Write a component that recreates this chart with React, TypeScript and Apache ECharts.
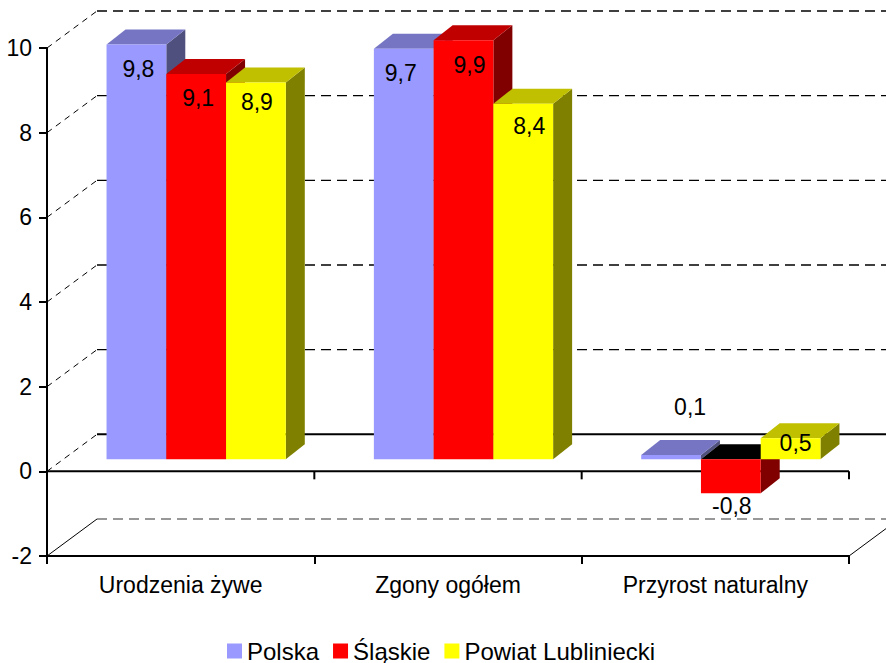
import React, { useEffect, useRef } from "react";
import * as echarts from "echarts";

// ---- data ----
const categories = ["Urodzenia żywe", "Zgony ogółem", "Przyrost naturalny"];
const seriesNames = ["Polska", "Śląskie", "Powiat Lubliniecki"];
const polska = [9.8, 9.7, 0.1];
const slaskie = [9.1, 9.9, -0.8];
const powiat = [8.9, 8.4, 0.5];
const yTicks = [-2, 0, 2, 4, 6, 8, 10];

// ---- style ----
const FONT = "'Liberation Sans', Arial, sans-serif";
const WALL_DX = 50;
const WALL_DY = -37;
const SHIFT_X = 15.5;
const SHIFT_Y = -12;
const DEPTH_X = 19;
const DEPTH_Y = -15;
const BAR_FRAC = 0.2235;

const palette = [
  { front: "#9999FF", top: "#7575C4", side: "#50507F" },
  { front: "#FF0000", top: "#C00000", side: "#800000" },
  { front: "#FFFF00", top: "#C0C000", side: "#808000" },
];
// label offsets [dx, dy] relative to value end of the front face
const labelOffsets = [
  [[2, 25], [-3, 24], [19, -48]],
  [[2, 24], [6, 25], [1, 13]],
  [[1, 19], [6, 22], [5, 5]],
];

function fmt(v: number) {
  return String(v).replace(".", ",");
}

function makeBarRender(sIdx: number) {
  const col = palette[sIdx];
  return (params: any, api: any) => {
    const i = params.dataIndex;
    const v = api.value(1);
    const band = api.size([1, 0])[0];
    const c = api.coord([i, 0]);
    const e = api.coord([i, v]);
    const barW = band * BAR_FRAC;
    const left = c[0] - barW * 1.5 + sIdx * barW + SHIFT_X;
    const right = left + barW;
    const y0 = c[1] + SHIFT_Y;
    const y1 = e[1] + SHIFT_Y;
    const top = Math.min(y0, y1);
    const bottom = Math.max(y0, y1);
    const topColor = v < 0 ? "#000000" : col.top;
    const off = labelOffsets[sIdx][i];
    return {
      type: "group",
      children: [
        {
          type: "polygon",
          shape: {
            points: [
              [right, top],
              [right + DEPTH_X, top + DEPTH_Y],
              [right + DEPTH_X, bottom + DEPTH_Y],
              [right, bottom],
            ],
          },
          style: { fill: col.side },
        },
        {
          type: "polygon",
          shape: {
            points: [
              [left, top],
              [left + DEPTH_X, top + DEPTH_Y],
              [right + DEPTH_X, top + DEPTH_Y],
              [right, top],
            ],
          },
          style: { fill: topColor },
        },
        {
          type: "rect",
          shape: { x: left, y: top, width: barW, height: bottom - top },
          style: { fill: col.front },
        },
        {
          type: "text",
          x: (left + right) / 2 + off[0],
          y: y1 + off[1],
          style: {
            text: fmt(v),
            fill: "#000",
            font: `23px ${FONT}`,
            align: "center",
            verticalAlign: "middle",
          },
        },
      ],
    };
  };
}

function wallRender(params: any, api: any) {
  const v = api.value(1);
  const cs = params.coordSys;
  const x0 = cs.x;
  const w = cs.width;
  const y = api.coord([0, v])[1];
  const children: any[] = [];
  children.push({
    type: "line",
    shape: { x1: x0, y1: y, x2: x0 + WALL_DX, y2: y + WALL_DY },
    style: { stroke: "#000", lineWidth: 1, lineDash: v === -2 ? null : [6, 5] },
  });
  children.push({
    type: "line",
    shape: { x1: x0 + WALL_DX, y1: y + WALL_DY, x2: x0 + WALL_DX + w, y2: y + WALL_DY },
    style: {
      stroke: v === -2 ? "#777" : "#000",
      lineWidth: v === 0 ? 2 : 1.3,
      lineDash: v === 0 ? null : [10, 6],
    },
  });
  if (v === 0) {
    children.push({
      type: "line",
      shape: { x1: x0, y1: y, x2: x0 + w, y2: y },
      style: { stroke: "#000", lineWidth: 2 },
    });
    for (let k = 1; k <= categories.length; k++) {
      const tx = x0 + (k * w) / categories.length;
      children.push({
        type: "line",
        shape: { x1: tx, y1: y, x2: tx, y2: y + 8 },
        style: { stroke: "#000", lineWidth: 2 },
      });
    }
  }
  if (v === -2) {
    children.push({
      type: "line",
      shape: { x1: x0 + w, y1: y, x2: x0 + w + WALL_DX, y2: y + WALL_DY },
      style: { stroke: "#000", lineWidth: 1 },
    });
  }
  return { type: "group", children };
}

export default function App() {
  const ref = useRef<HTMLDivElement>(null);
  useEffect(() => {
    if (!ref.current) return;
    const chart = echarts.init(ref.current, null, { renderer: "svg" });
    const allValues = [polska, slaskie, powiat];
    chart.setOption({
      animation: false,
      backgroundColor: "#ffffff",
      textStyle: { fontFamily: FONT },
      grid: { left: 47, right: 37, top: 48, bottom: 107 },
      legend: {
        data: seriesNames,
        top: 639,
        left: 227,
        padding: 0,
        icon: "rect",
        itemWidth: 15,
        itemHeight: 15,
        itemGap: 14,
        textStyle: { fontSize: 24, lineHeight: 22, color: "#000", fontFamily: FONT },
      },
      xAxis: {
        type: "category",
        data: categories,
        axisLine: { onZero: false, lineStyle: { color: "#000", width: 2 } },
        axisTick: { show: true, length: 8, lineStyle: { color: "#000", width: 2 } },
        axisLabel: { fontSize: 23, color: "#000", margin: 17, fontFamily: FONT },
        splitLine: { show: false },
      },
      yAxis: {
        type: "value",
        min: -2,
        max: 10,
        interval: 2,
        axisLine: { show: true, lineStyle: { color: "#000", width: 2 } },
        axisTick: { show: true, length: 8, lineStyle: { color: "#000", width: 2 } },
        axisLabel: { fontSize: 23, color: "#000", margin: 15, fontFamily: FONT },
        splitLine: { show: false },
      },
      series: [
        {
          type: "custom",
          name: "wall",
          z: 1,
          silent: true,
          renderItem: wallRender,
          data: yTicks.map((v) => [0, v]),
        },
        ...seriesNames.map((name, sIdx) => ({
          type: "custom",
          name,
          z: 2 + sIdx,
          itemStyle: { color: palette[sIdx].front },
          renderItem: makeBarRender(sIdx),
          data: allValues[sIdx].map((v, i) => [i, v]),
        })),
      ],
    });
    return () => chart.dispose();
  }, []);
  return (
    <div
      ref={ref}
      style={{ position: "fixed", left: 0, top: 0, width: 886, height: 663, background: "#fff" }}
    />
  );
}
